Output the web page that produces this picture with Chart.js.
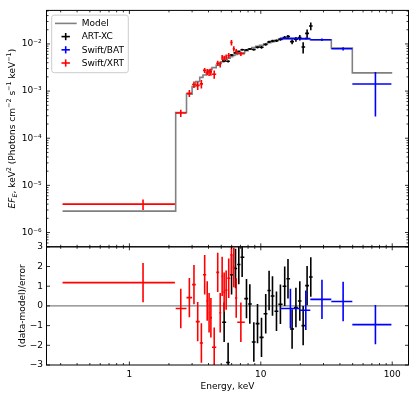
<!DOCTYPE html>
<html>
<head>
<meta charset="utf-8">
<script src="https://cdn.jsdelivr.net/npm/chart.js@4.4.0/dist/chart.umd.min.js"></script>
<style>
html, body { margin: 0; padding: 0; background: #fff; }
#wrap { position: relative; width: 415px; height: 397px; }
</style>
</head>
<body>
<div id="wrap"><canvas id="spec" width="415" height="397"></canvas></div>
<script>
// values (energy in keV, EF_E in keV^2 photons/cm2/s/keV)

// Swift/XRT
const xrtE   = [1.27, 2.46, 2.86, 3.10, 3.31, 3.53, 3.74, 3.91, 4.04, 4.17, 4.42, 4.70, 4.91, 5.08, 5.26, 5.45, 5.70, 5.98, 6.23, 6.50, 7.05];
const xrtLo  = [0.31, 2.25, 2.72, 3.00, 3.20, 3.43, 3.63, 3.84, 3.98, 4.10, 4.25, 4.58, 4.82, 5.00, 5.17, 5.35, 5.56, 5.85, 6.11, 6.36, 6.62];
const xrtHi  = [2.22, 2.72, 3.00, 3.20, 3.43, 3.63, 3.84, 3.98, 4.10, 4.25, 4.58, 4.82, 5.00, 5.17, 5.35, 5.56, 5.85, 6.11, 6.36, 6.62, 7.55];
const xrtF   = [4.0e-6, 3.42e-4, 9.0e-4, 1.38e-3, 1.32e-3, 1.42e-3, 2.75e-3, 2.55e-3, 2.50e-3, 2.55e-3, 2.28e-3, 3.9e-3, 3.7e-3, 5.2e-3, 5.0e-3, 5.3e-3, 5.7e-3, 1.07e-2, 7.9e-3, 7.0e-3, 6.2e-3];
const xrtErr = [1.0e-6, 6e-5, 1.5e-4, 2.2e-4, 2.6e-4, 2.9e-4, 3.4e-4, 3.8e-4, 4.0e-4, 4.3e-4, 4.5e-4, 5.0e-4, 5.5e-4, 6.5e-4, 6.5e-4, 7.0e-4, 7.5e-4, 1.4e-3, 1.0e-3, 8.5e-4, 6.5e-4];
const xrtRes = [1.18, -0.13, 0.42, 1.08, -0.8, -1.88, 1.58, 0.25, -0.35, -0.6, -2.1, 1.7, -0.35, 1.5, 0.7, 0.8, 1.4, 2.6, 1.95, 0.4, -0.83];

// SRG/ART-XC
const artE   = [5.26, 5.64, 5.99, 6.42, 6.80, 7.21, 7.78, 8.25, 8.85, 9.44, 10.12, 10.9, 11.56, 12.27, 13.16, 14.1, 15.2, 16.1, 17.3, 18.5, 19.8, 21.0, 22.5, 24.0];
const artLo  = [5.08, 5.45, 5.81, 6.20, 6.61, 7.00, 7.49, 8.01, 8.54, 9.14, 9.77, 10.5, 11.23, 11.9, 12.7, 13.6, 14.65, 15.65, 16.7, 17.9, 19.15, 20.4, 21.75, 23.25];
const artHi  = [5.45, 5.81, 6.20, 6.61, 7.00, 7.49, 8.01, 8.54, 9.14, 9.77, 10.5, 11.23, 11.9, 12.7, 13.6, 14.65, 15.65, 16.7, 17.9, 19.15, 20.4, 21.75, 23.25, 24.8];
const artF   = [4.37e-3, 4.28e-3, 5.83e-3, 6.46e-3, 6.96e-3, 7.53e-3, 7.43e-3, 7.84e-3, 7.63e-3, 8.5e-3, 8.5e-3, 9.76e-3, 1.11e-2, 1.154e-2, 1.171e-2, 1.257e-2, 1.37e-2, 1.44e-2, 1.12e-2, 1.26e-2, 1.36e-2, 8.6e-3, 1.68e-2, 2.41e-2];
const artErr = [2.8e-4, 2.5e-4, 2.7e-4, 3.0e-4, 3.2e-4, 3.4e-4, 3.7e-4, 3.9e-4, 4.2e-4, 4.5e-4, 5.6e-4, 6.0e-4, 6.4e-4, 6.7e-4, 7.1e-4, 8.8e-4, 1.0e-3, 1.15e-3, 1.3e-3, 1.5e-3, 1.8e-3, 2.3e-3, 3.5e-3, 4.5e-3];
const artRes = [-0.83, -2.87, 1.58, 1.9, 2.1, 2.47, 0.37, 0.1, -1.83, -0.9, -1.6, -0.4, 0.78, 0.5, -0.27, 0.08, 1.0, 1.38, -1.17, -0.08, 0.25, -1.0, 1.03, 1.47];

// Swift/BAT
const batE   = [16.8, 22.0, 29.2, 42.3, 74.5];
const batLo  = [13.95, 19.8, 23.8, 34.4, 49.7];
const batHi  = [19.8, 23.8, 34.4, 49.7, 98.6];
const batF   = [1.31e-2, 1.30e-2, 1.23e-2, 7.9e-3, 1.41e-3];
const batErr = [5e-4, 7e-4, 7e-4, 6e-4, 1.12e-3];
const batRes = [-0.13, -0.22, 0.33, 0.22, -0.95];

// model, step per bin
const modelEdges = [0.31, 2.25, 2.72, 3.00, 3.20, 3.43, 3.63, 3.84, 3.98, 4.10, 4.25, 4.58, 4.82, 5.00, 5.17, 5.35, 5.56, 5.85, 6.11, 6.36,
                    6.62, 7.55, 8.01, 8.54, 9.14, 9.77, 10.5, 11.23, 11.9, 12.7, 13.6, 14.65, 15.65, 19.8, 23.8, 34.4, 49.7, 100];
const modelF = [2.84e-6, 3.5e-4, 8.6e-4, 1.25e-3, 1.6e-3, 1.95e-3, 2.2e-3, 2.45e-3, 2.65e-3, 2.85e-3, 3.15e-3, 3.55e-3, 3.9e-3, 4.2e-3,
                4.5e-3, 4.75e-3, 5.0e-3, 5.35e-3, 5.7e-3, 6.0e-3, 6.5e-3, 7.2e-3, 7.8e-3, 8.4e-3, 8.9e-3, 9.4e-3, 1.0e-2, 1.06e-2,
                1.12e-2, 1.19e-2, 1.25e-2, 1.27e-2, 1.28e-2, 1.27e-2, 1.23e-2, 8.2e-3, 2.43e-3];

// axes
const xTicks = [1, 10, 100];
const yTicks = [1e-6, 1e-5, 1e-4, 1e-3, 1e-2];
const rTicks = [-3, -2, -1, 0, 1, 2, 3];

const FONT = '"DejaVu Sans", sans-serif';

function sup(n) {
    const m = {'-': '\u207B', '0': '\u2070', '1': '\u00B9', '2': '\u00B2', '3': '\u00B3', '4': '\u2074',
               '5': '\u2075', '6': '\u2076', '7': '\u2077', '8': '\u2078', '9': '\u2079'};
    return String(n).split('').map(c => m[c]).join('');
}

function points(E, lo, hi, v, err) {
    return E.map((e, i) => ({x: e, y: v[i], xl: lo[i], xh: hi[i], yl: v[i] - err[i], yh: v[i] + err[i]}));
}

function resid(E, lo, hi, r) {
    return E.map((e, i) => ({x: e, y: r[i], xl: lo[i], xh: hi[i], yl: r[i] - 1, yh: r[i] + 1}));
}

const modelPts = [];
modelF.forEach((v, i) => {
    modelPts.push({x: modelEdges[i], y: v});
    modelPts.push({x: modelEdges[i + 1], y: v});
});

const panels = {
    id: 'panels',
    beforeDatasetsDraw(chart) {
        const ctx = chart.ctx, sr = chart.scales.yr, a = chart.chartArea;
        const y0 = sr.getPixelForValue(0);
        ctx.save();
        ctx.strokeStyle = '#808080';
        ctx.lineWidth = 1.2;
        ctx.beginPath();
        ctx.moveTo(a.left, y0);
        ctx.lineTo(a.right, y0);
        ctx.stroke();
        ctx.restore();
    },
    afterDatasetsDraw(chart) {
        const ctx = chart.ctx, sx = chart.scales.x;
        chart.data.datasets.forEach(ds => {
            if (!ds.bars) return;
            const sy = chart.scales[ds.yAxisID];
            ctx.save();
            ctx.beginPath();
            ctx.rect(sx.left, sy.top, sx.right - sx.left, sy.bottom - sy.top);
            ctx.clip();
            ctx.strokeStyle = ds.borderColor;
            ctx.lineWidth = 1.6;
            ds.data.forEach(p => {
                const x = sx.getPixelForValue(p.x), y = sy.getPixelForValue(p.y);
                ctx.beginPath();
                ctx.moveTo(sx.getPixelForValue(p.xl), y);
                ctx.lineTo(sx.getPixelForValue(p.xh), y);
                ctx.moveTo(x, sy.getPixelForValue(p.yl));
                ctx.lineTo(x, sy.getPixelForValue(p.yh));
                ctx.stroke();
            });
            ctx.restore();
        });
    },
    afterDraw(chart) {
        const ctx = chart.ctx, a = chart.chartArea;
        const sx = chart.scales.x, sy = chart.scales.y, sr = chart.scales.yr;
        const L = a.left, R = a.right;
        ctx.save();

        // frames
        ctx.strokeStyle = '#000';
        ctx.lineWidth = 1;
        ctx.strokeRect(L, sy.top, R - L, sy.bottom - sy.top);
        ctx.strokeRect(L, sr.top, R - L, sr.bottom - sr.top);

        // inward ticks, all four sides
        const seg = (x1, y1, x2, y2) => { ctx.beginPath(); ctx.moveTo(x1, y1); ctx.lineTo(x2, y2); ctx.stroke(); };
        const xMinor = [];
        for (let d = -1; d <= 2; d++) {
            for (let k = 2; k <= 9; k++) {
                const v = k * Math.pow(10, d);
                if (v > sx.min && v < sx.max) xMinor.push(v);
            }
        }
        const yMinor = [];
        for (let d = -7; d <= -2; d++) {
            for (let k = 2; k <= 9; k++) {
                const v = k * Math.pow(10, d);
                if (v > sy.min && v < sy.max) yMinor.push(v);
            }
        }
        ctx.lineWidth = 0.8;
        [sy, sr].forEach(s => {
            xTicks.forEach(v => {
                const px = sx.getPixelForValue(v);
                seg(px, s.top, px, s.top + 3.5);
                seg(px, s.bottom, px, s.bottom - 3.5);
            });
            xMinor.forEach(v => {
                const px = sx.getPixelForValue(v);
                seg(px, s.top, px, s.top + 2);
                seg(px, s.bottom, px, s.bottom - 2);
            });
        });
        yTicks.forEach(v => {
            const py = sy.getPixelForValue(v);
            seg(L, py, L + 3.5, py);
            seg(R, py, R - 3.5, py);
        });
        yMinor.forEach(v => {
            const py = sy.getPixelForValue(v);
            seg(L, py, L + 2, py);
            seg(R, py, R - 2, py);
        });
        rTicks.forEach(v => {
            const py = sr.getPixelForValue(v);
            seg(L, py, L + 3.5, py);
            seg(R, py, R - 3.5, py);
        });

        // axis titles
        ctx.fillStyle = '#000';
        ctx.font = '9px ' + FONT;
        ctx.textAlign = 'center';
        ctx.textBaseline = 'alphabetic';
        ctx.fillText('Energy, keV', (L + R) / 2, 389);

        ctx.save();
        ctx.translate(23, (sr.top + sr.bottom) / 2);
        ctx.rotate(-Math.PI / 2);
        ctx.textBaseline = 'middle';
        ctx.fillText('(data-model)/error', 0, 0);
        ctx.restore();

        const parts = [
            ['EF', 'italic 9px ' + FONT, 0],
            ['E', 'italic 6.5px ' + FONT, 2],
            [', keV', '9px ' + FONT, 0],
            ['2', '6.5px ' + FONT, -3.6],
            [' (Photons cm', '9px ' + FONT, 0],
            ['\u22122', '6.5px ' + FONT, -3.6],
            [' s', '9px ' + FONT, 0],
            ['\u22121', '6.5px ' + FONT, -3.6],
            [' keV', '9px ' + FONT, 0],
            ['\u22121', '6.5px ' + FONT, -3.6],
            [')', '9px ' + FONT, 0]
        ];
        let total = 0;
        parts.forEach(p => { ctx.font = p[1]; total += ctx.measureText(p[0]).width; });
        ctx.save();
        ctx.translate(14.5, (sy.top + sy.bottom) / 2);
        ctx.rotate(-Math.PI / 2);
        ctx.textAlign = 'left';
        let cx = -total / 2;
        parts.forEach(p => {
            ctx.font = p[1];
            ctx.fillText(p[0], cx, p[2]);
            cx += ctx.measureText(p[0]).width;
        });
        ctx.restore();

        // legend
        const bx = L + 5.2, by = sy.top + 4.7, bw = 76.6, bh = 57.6;
        ctx.fillStyle = 'rgba(255,255,255,0.8)';
        ctx.strokeStyle = '#cccccc';
        ctx.lineWidth = 1;
        ctx.beginPath();
        ctx.roundRect(bx, by, bw, bh, 2.5);
        ctx.fill();
        ctx.stroke();
        const items = chart.data.datasets.filter(ds => ds.yAxisID === 'y');
        items.forEach((ds, i) => {
            const ry = by + 8.3 + i * 13.2;
            ctx.strokeStyle = ds.borderColor;
            ctx.lineWidth = 1.6;
            if (ds.bars) {
                seg(bx + 9.8, ry, bx + 18.2, ry);
                seg(bx + 14, ry - 3.6, bx + 14, ry + 3.6);
            } else {
                seg(bx + 3.3, ry, bx + 25, ry);
            }
            ctx.fillStyle = '#000';
            ctx.font = '9px ' + FONT;
            ctx.textAlign = 'left';
            ctx.textBaseline = 'middle';
            ctx.fillText(ds.label, bx + 30, ry + 0.5);
        });

        ctx.restore();
    }
};

const ctx = document.getElementById('spec').getContext('2d');
new Chart(ctx, {
    type: 'scatter',
    data: {
        datasets: [
            {type: 'line', label: 'Model', data: modelPts, yAxisID: 'y', borderColor: '#808080', borderWidth: 1.6,
             pointRadius: 0, fill: false, tension: 0},
            {label: 'ART-XC', data: points(artE, artLo, artHi, artF, artErr), yAxisID: 'y', bars: true, borderColor: '#000000', pointRadius: 0},
            {label: 'Swift/BAT', data: points(batE, batLo, batHi, batF, batErr), yAxisID: 'y', bars: true, borderColor: '#0000ff', pointRadius: 0},
            {label: 'Swift/XRT', data: points(xrtE, xrtLo, xrtHi, xrtF, xrtErr), yAxisID: 'y', bars: true, borderColor: '#ff0000', pointRadius: 0},
            {label: 'ART-XC res', data: resid(artE, artLo, artHi, artRes), yAxisID: 'yr', bars: true, borderColor: '#000000', pointRadius: 0},
            {label: 'Swift/BAT res', data: resid(batE, batLo, batHi, batRes), yAxisID: 'yr', bars: true, borderColor: '#0000ff', pointRadius: 0},
            {label: 'Swift/XRT res', data: resid(xrtE, xrtLo, xrtHi, xrtRes), yAxisID: 'yr', bars: true, borderColor: '#ff0000', pointRadius: 0}
        ]
    },
    options: {
        responsive: false,
        animation: false,
        devicePixelRatio: 1,
        layout: {padding: {left: 0, top: 6, right: 6.5, bottom: 0}},
        plugins: {legend: {display: false}, tooltip: {enabled: false}},
        scales: {
            x: {
                type: 'logarithmic', position: 'bottom', min: 0.234, max: 133,
                grid: {display: false, drawTicks: false}, border: {display: false},
                afterBuildTicks: s => { s.ticks = xTicks.map(v => ({value: v})); },
                afterFit: s => { s.height = 32; },
                ticks: {color: '#000', font: {family: FONT, size: 9}, padding: 4, maxRotation: 0, autoSkip: false,
                        callback: v => String(v)}
            },
            // residual panel declared first so the stacked layout puts it below the spectrum
            yr: {
                type: 'linear', position: 'left', stack: 'panels', stackWeight: 1, min: -3, max: 3,
                grid: {display: false, drawTicks: false}, border: {display: false},
                afterBuildTicks: s => { s.ticks = rTicks.map(v => ({value: v})); },
                afterFit: s => { s.width = 46.5; },
                ticks: {color: '#000', font: {family: FONT, size: 9}, padding: 3.5, autoSkip: false,
                        callback: v => (v < 0 ? '\u2212' + (-v) : String(v))}
            },
            y: {
                type: 'logarithmic', position: 'left', stack: 'panels', stackWeight: 2, min: 4.97e-7, max: 5.15e-2,
                grid: {display: false, drawTicks: false}, border: {display: false},
                afterBuildTicks: s => { s.ticks = yTicks.map(v => ({value: v})); },
                afterFit: s => { s.width = 46.5; },
                ticks: {color: '#000', font: {family: FONT, size: 9}, padding: 5, autoSkip: false,
                        callback: v => '10' + sup(Math.round(Math.log10(v)))}
            }
        }
    },
    plugins: [panels]
});
</script>
</body>
</html>
